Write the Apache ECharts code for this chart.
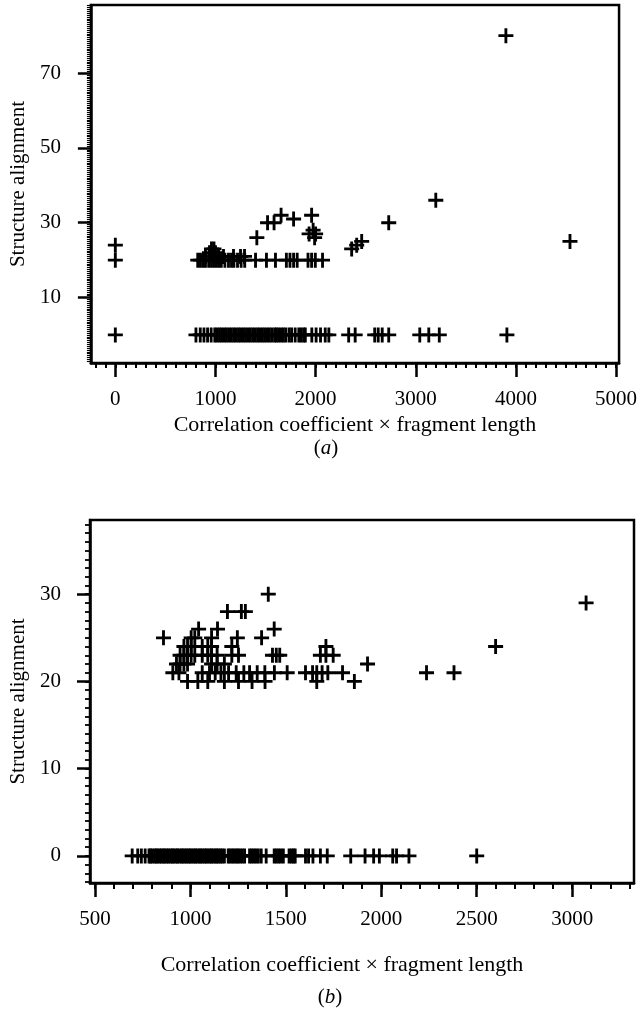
<!DOCTYPE html>
<html>
<head>
<meta charset="utf-8">
<script src="https://cdn.jsdelivr.net/npm/echarts@6/dist/echarts.min.js"></script>
<style>
  html, body { margin: 0; padding: 0; background: #fff; }
  #main { width: 640px; height: 1012px; }
</style>
</head>
<body>
<div id="main"></div>
<script>
// panel (a): x values of points at each structure alignment level
var aAt0 = [0, 805, 848, 885, 921, 957, 993, 1015, 1040, 1062, 1088, 1110, 1135, 1158, 1182, 1205,
  1230, 1252, 1277, 1300, 1325, 1348, 1372, 1395, 1420, 1443, 1467, 1490, 1515, 1538, 1562, 1590,
  1608, 1630, 1655, 1678, 1702, 1735, 1760, 1796, 1832, 1855, 1880, 1897, 1962, 2005, 2049, 2096,
  2132, 2330, 2395, 2590, 2625, 2665, 2730, 3040, 3130, 3235, 3910];
var aAt20 = [0, 823, 850, 877, 900, 932, 960, 985, 1010, 1035, 1058, 1094, 1130, 1160, 1184, 1220,
  1256, 1292, 1400, 1509, 1599, 1708, 1744, 1780, 1816, 1924, 1960, 1997, 2069];
var aAt21 = [900, 1030, 1080, 1180, 1250, 1290];
var aAt22 = [940, 1000];
var aOtherX = [960, 985, 0, 1413, 1520, 1585, 1655, 1780, 1960, 1935, 1975, 1990, 2000, 2360, 2410, 2460, 2730, 3200, 4540, 3900];
var aOtherY = [23, 23, 24, 26, 30, 30, 32, 31, 32, 27, 28, 26, 27, 23, 24, 25, 30, 36, 25, 80];

// panel (b)
var bAt0 = [695, 724, 743, 763, 783, 791, 800, 812, 821, 829, 840, 848, 859, 866, 877, 885, 896, 905,
  913, 924, 932, 941, 953, 960, 971, 979, 990, 998, 1007, 1018, 1026, 1035, 1046, 1054, 1063, 1074,
  1082, 1091, 1102, 1110, 1119, 1130, 1138, 1147, 1158, 1166, 1178, 1198, 1207, 1219, 1228, 1240,
  1249, 1260, 1272, 1284, 1310, 1321, 1333, 1344, 1356, 1371, 1397, 1439, 1450, 1462, 1474, 1487,
  1517, 1529, 1540, 1549, 1603, 1619, 1642, 1681, 1717, 1840, 1915, 1960, 1990, 2060, 2080, 2145, 2500];
var bAt20 = [985, 1039, 1091, 1178, 1252, 1323, 1391, 1662, 1859];
var bAt21 = [908, 940, 1062, 1100, 1130, 1160, 1200, 1240, 1280, 1310, 1350, 1390, 1440, 1507,
  1603, 1640, 1662, 1690, 1720, 1797, 2237, 2381];
var bAt22 = [927, 946, 966, 985, 1111, 1140, 1178, 1928];
var bAt23 = [946, 966, 985, 1004, 1023, 1062, 1091, 1111, 1140, 1217, 1252, 1430, 1450, 1468, 1681, 1710, 1748];
var bAt24 = [966, 985, 1004, 1062, 1091, 1111, 1217, 1710, 2599];
var bOtherX = [859, 1004, 1023, 1111, 1246, 1373, 1043, 1142, 1439, 1194, 1267, 1288, 1408, 3073];
var bOtherY = [25, 25, 25, 25, 25, 25, 26, 26, 26, 28, 28, 28, 30, 29];

// tick labels
var aXTicks = [0, 1000, 2000, 3000, 4000, 5000];
var aYTicks = [10, 30, 50, 70];
var bXTicks = [500, 1000, 1500, 2000, 2500, 3000];
var bYTicks = [0, 10, 20, 30];

function steps(from, to, step) {
  var out = [];
  for (var v = from; v <= to + 1e-9; v += step) out.push(Math.round(v * 100) / 100);
  return out;
}

function level(xs, y) {
  return xs.map(function (x) { return [x, y]; });
}
function pairs(xs, ys) {
  return xs.map(function (x, i) { return [x, ys[i]]; });
}

var FONT = 'Liberation Serif';
var PLUS = 'path://M-1,-0.19L1,-0.19L1,0.19L-1,0.19Z M-0.19,-1L0.19,-1L0.19,1L-0.19,1Z';
var xTitle = 'Correlation coefficient \u00d7 fragment length';
var plain = function (v) { return String(v); };

function mainX(grid, min, max, ticks) {
  return {
    type: 'value', gridIndex: grid, min: min, max: max, position: 'bottom',
    axisLine: { show: true, onZero: false, lineStyle: { color: '#000', width: 2.5 } },
    axisTick: { show: true, customValues: ticks, length: 14, lineStyle: { color: '#000', width: 2.5 } },
    axisLabel: { customValues: ticks, formatter: plain, margin: 26, fontFamily: FONT, fontSize: 21, color: '#000' },
    splitLine: { show: false }
  };
}
function minorX(grid, min, max, ticks, len) {
  return {
    type: 'value', gridIndex: grid, min: min, max: max, position: 'bottom',
    axisLine: { show: false, onZero: false },
    axisTick: { show: true, customValues: ticks, length: len, lineStyle: { color: '#000', width: 2 } },
    axisLabel: { show: false },
    splitLine: { show: false }
  };
}
function mainY(grid, min, max, ticks, gap, margin) {
  return {
    type: 'value', gridIndex: grid, min: min, max: max, position: 'left',
    name: 'Structure alignment', nameLocation: 'middle', nameGap: gap,
    nameTextStyle: { fontFamily: FONT, fontSize: 21, color: '#000' },
    axisLine: { show: true, onZero: false, lineStyle: { color: '#000', width: 2.5 } },
    axisTick: { show: true, customValues: ticks, length: 13, lineStyle: { color: '#000', width: 2.5 } },
    axisLabel: { customValues: ticks, formatter: plain, margin: margin, fontFamily: FONT, fontSize: 21, color: '#000' },
    splitLine: { show: false }
  };
}
function minorY(grid, min, max, ticks, len, width) {
  return {
    type: 'value', gridIndex: grid, min: min, max: max, position: 'left',
    axisLine: { show: false, onZero: false },
    axisTick: { show: true, customValues: ticks, length: len, lineStyle: { color: '#000', width: width } },
    axisLabel: { show: false },
    splitLine: { show: false }
  };
}
function plusSeries(xi, yi, data) {
  return {
    type: 'scatter', xAxisIndex: xi, yAxisIndex: yi, data: data,
    symbol: PLUS, symbolSize: 15, silent: true,
    itemStyle: { color: '#000', opacity: 1 }
  };
}
function caption(x, y, text, size) {
  return { type: 'text', x: x, y: y, style: { text: text, fontFamily: FONT, fontSize: size, fill: '#000',
    align: 'center', verticalAlign: 'middle',
    rich: { i: { fontFamily: FONT, fontSize: size, fontStyle: 'italic', color: '#000' } } } };
}

var aData = [].concat(level(aAt0, 0), level(aAt20, 20), level(aAt21, 21), level(aAt22, 22), pairs(aOtherX, aOtherY));
var bData = [].concat(level(bAt0, 0), level(bAt20, 20), level(bAt21, 21), level(bAt22, 22),
  level(bAt23, 23), level(bAt24, 24), pairs(bOtherX, bOtherY));

var chart = echarts.init(document.getElementById('main'), null, { renderer: 'canvas' });
chart.setOption({
  animation: false,
  backgroundColor: '#fff',
  grid: [
    { left: 82, top: 5, width: 541, height: 358, show: true, borderColor: '#000', borderWidth: 2.5, backgroundColor: 'transparent' },
    { left: 88, top: 520, width: 546, height: 363, show: true, borderColor: '#000', borderWidth: 2.5, backgroundColor: 'transparent' }
  ],
  xAxis: [
    mainX(0, -244, 5030, aXTicks),
    minorX(0, -244, 5030, steps(-200, 5000, 100), 5),
    mainX(1, 474, 3324, bXTicks),
    minorX(1, 474, 3324, steps(500, 3300, 100), 6)
  ],
  yAxis: [
    mainY(0, -7.5, 88.2, aYTicks, 57, 30),
    minorY(0, -7.5, 88.2, steps(-7, 88, 0.5), 4, 1.1),
    mainY(1, -3.1, 38.5, bYTicks, 61, 29),
    minorY(1, -3.1, 38.5, steps(-3, 38, 1), 5, 1.8)
  ],
  graphic: [
    caption(355, 425, xTitle, 22),
    caption(326, 448, '({i|a})', 21),
    caption(342, 965, xTitle, 22),
    caption(330, 997, '({i|b})', 21)
  ],
  series: [
    plusSeries(0, 0, aData),
    plusSeries(2, 2, bData)
  ]
});
</script>
</body>
</html>
